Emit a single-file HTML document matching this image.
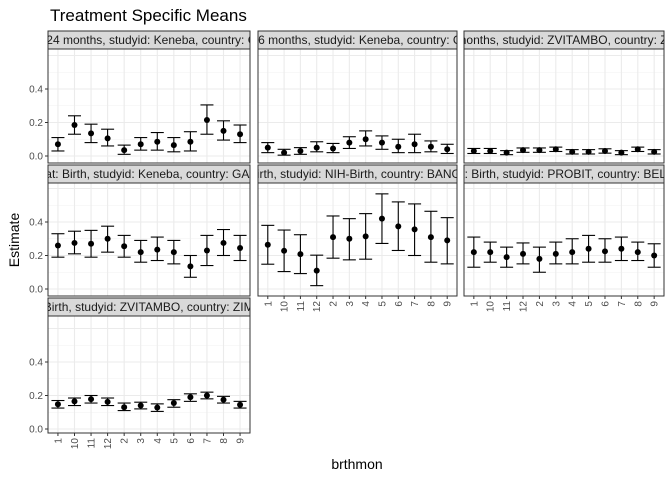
<!DOCTYPE html>
<html><head><meta charset="utf-8"><style>
body{margin:0;background:#fff;}
svg{display:block;font-family:"Liberation Sans",sans-serif;}
</style></head><body>
<svg id="chart" width="672" height="480" xmlns="http://www.w3.org/2000/svg">
<text x="50" y="21" font-size="17" fill="#000">Treatment Specific Means</text>
<text transform="translate(19,240) rotate(-90)" text-anchor="middle" font-size="14">Estimate</text>
<text x="357" y="469" text-anchor="middle" font-size="14">brthmon</text>
</svg>
<script>
const categories=["1","10","11","12","2","3","4","5","6","7","8","9"];
const yTicks=[0,0.2,0.4];
const yTickLabels=["0.0","0.2","0.4"];
const stripLabels=[
"agecat: 24 months, studyid: Keneba, country: GAMBIA",
"agecat: 6 months, studyid: Keneba, country: GAMBIA",
"agecat: 3 months, studyid: ZVITAMBO, country: ZIMBABWE",
"agecat: Birth, studyid: Keneba, country: GAMBIA",
"agecat: Birth, studyid: NIH-Birth, country: BANGLADESH",
"agecat: Birth, studyid: PROBIT, country: BELARUS",
"agecat: Birth, studyid: ZVITAMBO, country: ZIMBABWE"];
const est1=[0.07,0.185,0.135,0.105,0.035,0.07,0.085,0.065,0.085,0.215,0.15,0.13];
const lo1=[0.03,0.13,0.08,0.06,0.01,0.035,0.035,0.025,0.03,0.13,0.095,0.08];
const hi1=[0.11,0.24,0.19,0.16,0.065,0.11,0.14,0.11,0.145,0.305,0.21,0.185];
const est2=[0.05,0.02,0.03,0.05,0.045,0.08,0.1,0.08,0.055,0.07,0.055,0.04];
const lo2=[0.02,0.005,0.01,0.025,0.02,0.045,0.06,0.04,0.02,0.02,0.025,0.015];
const hi2=[0.08,0.04,0.05,0.085,0.075,0.115,0.15,0.12,0.1,0.13,0.09,0.07];
const est3=[0.03,0.03,0.02,0.035,0.035,0.04,0.025,0.025,0.03,0.02,0.04,0.025];
const lo3=[0.015,0.015,0.008,0.022,0.022,0.027,0.012,0.012,0.017,0.008,0.027,0.012];
const hi3=[0.045,0.045,0.032,0.048,0.048,0.053,0.038,0.038,0.043,0.032,0.053,0.038];
const est4=[0.26,0.275,0.27,0.3,0.255,0.22,0.235,0.22,0.135,0.23,0.275,0.245];
const lo4=[0.19,0.21,0.19,0.22,0.19,0.16,0.17,0.15,0.07,0.14,0.2,0.17];
const hi4=[0.33,0.345,0.35,0.375,0.32,0.29,0.31,0.29,0.2,0.32,0.355,0.32];
const est5=[0.264,0.228,0.208,0.11,0.31,0.3,0.314,0.42,0.374,0.356,0.31,0.29];
const lo5=[0.148,0.104,0.092,0.02,0.184,0.174,0.178,0.272,0.23,0.2,0.16,0.15];
const hi5=[0.38,0.352,0.324,0.202,0.436,0.42,0.45,0.568,0.52,0.508,0.464,0.426];
const est6=[0.22,0.22,0.19,0.21,0.18,0.21,0.22,0.24,0.225,0.24,0.22,0.2];
const lo6=[0.13,0.16,0.13,0.15,0.1,0.15,0.15,0.16,0.16,0.17,0.17,0.13];
const hi6=[0.31,0.28,0.25,0.275,0.25,0.28,0.3,0.32,0.3,0.31,0.28,0.27];
const est7=[0.148,0.165,0.178,0.162,0.13,0.14,0.128,0.155,0.19,0.2,0.175,0.145];
const lo7=[0.125,0.14,0.155,0.14,0.11,0.12,0.105,0.13,0.165,0.18,0.155,0.125];
const hi7=[0.17,0.185,0.2,0.185,0.155,0.16,0.15,0.175,0.21,0.22,0.195,0.165];
const ests=[est1,est2,est3,est4,est5,est6,est7];
const los=[lo1,lo2,lo3,lo4,lo5,lo6,lo7];
const his=[hi1,hi2,hi3,hi4,hi5,hi6,hi7];

const NS="http://www.w3.org/2000/svg";
const svg=document.getElementById('chart');
const cols=[[48,250],[258,457],[464,664]];
const rows=[{s:31,t:49,b:163,z:156},{s:165,t:183,b:296,z:289},{s:298,t:316,b:433,z:429}];
const PX=167.5;
function mk(tag,a,p){const e=document.createElementNS(NS,tag);for(const k in a)e.setAttribute(k,a[k]);(p||svg).appendChild(e);return e;}
for(let p=0;p<7;p++){
  const col=cols[p%3],row=rows[Math.floor(p/3)];
  const g=mk('g',{});
  
  
  const x0=col[0],x1=col[1];
  const step=(x1-x0)/(categories.length-1+1.2);
  const xs=i=>x0+step*(0.6+i);
  const ys=v=>row.z-v*PX;
  [0.1,0.3,0.5].forEach(v=>{const y=ys(v);if(y>row.t)mk('line',{x1:x0,x2:x1,y1:y,y2:y,stroke:'#f2f2f2','stroke-width':0.6},g);});
  [0,0.2,0.4,0.6].forEach(v=>{const y=ys(v);if(y>row.t)mk('line',{x1:x0,x2:x1,y1:y,y2:y,stroke:'#ebebeb','stroke-width':1.1},g);});
  categories.forEach((c,i)=>mk('line',{x1:xs(i),x2:xs(i),y1:row.t,y2:row.b,stroke:'#ebebeb','stroke-width':1.1},g));
  const cid='clip'+p;
  const cp=mk('clipPath',{id:cid},g);mk('rect',{x:x0,y:row.s,width:x1-x0,height:row.t-row.s},cp);
  const sr=mk('rect',{x:x0,y:row.s,width:x1-x0,height:row.t-row.s,fill:'#d9d9d9',stroke:'#333','stroke-width':1},g);
  
  
  const st=mk('text',{x:(x0+x1)/2,y:row.t-5,'text-anchor':'middle','font-size':12,fill:'#1a1a1a','clip-path':'url(#'+cid+')'},g);
  st.textContent=stripLabels[p];
  
  
  categories.forEach((c,i)=>{
    const x=xs(i);
    const eg=mk('g',{},g);
    
    
    mk('line',{x1:x,x2:x,y1:ys(los[p][i]),y2:ys(his[p][i]),stroke:'#000','stroke-width':1.1},eg);
    mk('line',{x1:x-6.5,x2:x+6.5,y1:ys(los[p][i]),y2:ys(los[p][i]),stroke:'#000','stroke-width':1.1},eg);
    mk('line',{x1:x-6.5,x2:x+6.5,y1:ys(his[p][i]),y2:ys(his[p][i]),stroke:'#000','stroke-width':1.1},eg);
    mk('circle',{cx:x,cy:ys(ests[p][i]),r:3,fill:'#000'},eg);
  });
  mk('rect',{x:x0,y:row.t,width:x1-x0,height:row.b-row.t,fill:'none',stroke:'#333','stroke-width':1},g);
  if(p%3===0){
    yTicks.forEach((v,k)=>{const y=ys(v);
      mk('line',{x1:x0-3,x2:x0,y1:y,y2:y,stroke:'#333','stroke-width':1},g);
      const t=mk('text',{x:x0-5,y:y+3.5,'text-anchor':'end','font-size':10,fill:'#4d4d4d'},g);
      t.textContent=yTickLabels[k];
      
      });
  }
  if(p>=4){
    categories.forEach((c,i)=>{const x=xs(i);
      mk('line',{x1:x,x2:x,y1:row.b,y2:row.b+3,stroke:'#333','stroke-width':1},g);
      const t=mk('text',{transform:'translate('+(x+3.5)+','+(row.b+5)+') rotate(-90)','text-anchor':'end','font-size':10,fill:'#4d4d4d'},g);
      t.textContent=c;
      
      });
  }
}
</script>
</body></html>
